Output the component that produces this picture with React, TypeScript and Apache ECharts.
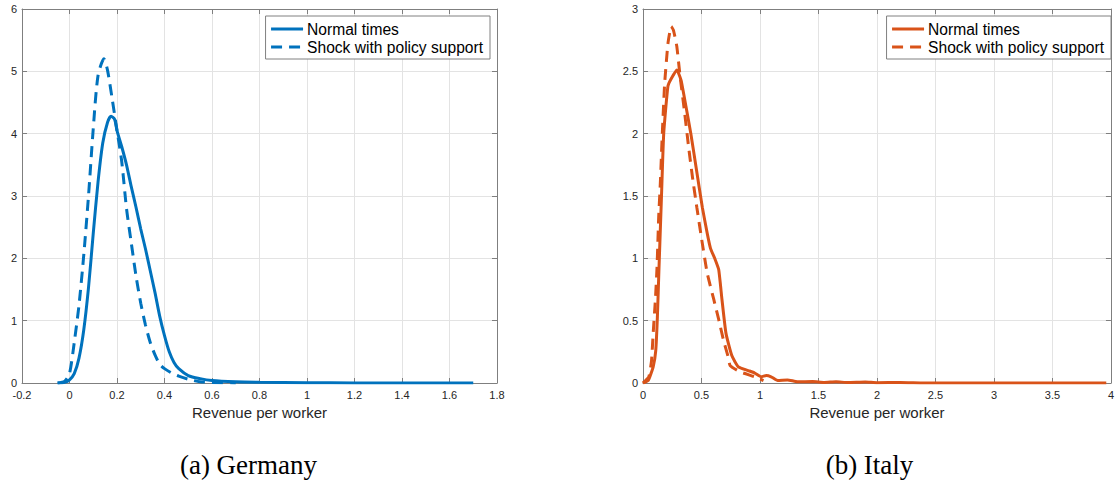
import React, { useEffect, useRef } from "react";
import * as echarts from "echarts";

const SERIES_NAMES = ["Normal times", "Shock with policy support"];
const X_AXIS_TITLE = "Revenue per worker";
const CAPTIONS = ["(a) Germany", "(b) Italy"];

// Germany
const DE_NORMAL_X = [-0.05, -0.02, 0, 0.02, 0.04, 0.06, 0.08, 0.1, 0.12, 0.14, 0.16, 0.175, 0.19, 0.2, 0.22, 0.24, 0.26, 0.28, 0.3, 0.32, 0.34, 0.36, 0.38, 0.4, 0.42, 0.44, 0.46, 0.5, 0.55, 0.6, 0.7, 0.8, 1.0, 1.2, 1.4, 1.7];
const DE_NORMAL_Y = [0, 0.01, 0.05, 0.15, 0.4, 0.85, 1.53, 2.4, 3.22, 3.85, 4.18, 4.28, 4.23, 4.05, 3.79, 3.5, 3.15, 2.82, 2.47, 2.15, 1.8, 1.45, 1.07, 0.76, 0.5, 0.33, 0.23, 0.12, 0.07, 0.04, 0.02, 0.012, 0.005, 0.002, 0.001, 0];
const DE_SHOCK_X = [-0.05, -0.02, 0, 0.02, 0.04, 0.06, 0.08, 0.1, 0.12, 0.145, 0.16, 0.18, 0.2, 0.22, 0.24, 0.26, 0.28, 0.3, 0.32, 0.34, 0.36, 0.38, 0.4, 0.43, 0.46, 0.5, 0.55, 0.6, 0.7];
const DE_SHOCK_Y = [0, 0.03, 0.15, 0.65, 1.25, 2.05, 3.0, 4.08, 4.93, 5.2, 5.02, 4.55, 4.05, 3.55, 2.8, 2.25, 1.72, 1.28, 0.93, 0.65, 0.45, 0.3, 0.23, 0.16, 0.11, 0.06, 0.02, 0.01, 0];

// Italy
const IT_NORMAL_X = [0, 0.045, 0.087, 0.109, 0.123, 0.137, 0.157, 0.177, 0.213, 0.241, 0.289, 0.325, 0.367, 0.409, 0.457, 0.507, 0.549, 0.577, 0.613, 0.647, 0.675, 0.709, 0.759, 0.815, 0.899, 0.955, 1.011, 1.053, 1.095, 1.151, 1.235, 1.32, 1.45, 1.55, 1.65, 1.75, 1.9, 2.0, 2.2, 2.4, 3.0, 3.5, 3.96];
const IT_NORMAL_Y = [0, 0.02, 0.13, 0.26, 0.53, 0.93, 1.47, 2.0, 2.38, 2.44, 2.51, 2.43, 2.22, 2.0, 1.71, 1.41, 1.2, 1.08, 1.0, 0.91, 0.67, 0.4, 0.22, 0.13, 0.1, 0.08, 0.05, 0.06, 0.05, 0.02, 0.025, 0.01, 0.012, 0.005, 0.01, 0.004, 0.008, 0.003, 0.005, 0.001, 0, 0, 0];
const IT_SHOCK_X = [0, 0.05, 0.073, 0.087, 0.106, 0.12, 0.134, 0.148, 0.165, 0.185, 0.213, 0.241, 0.26, 0.289, 0.317, 0.353, 0.389, 0.423, 0.46, 0.502, 0.549, 0.605, 0.647, 0.689, 0.725, 0.745, 0.829, 0.955, 1.03];
const IT_SHOCK_Y = [0, 0.05, 0.18, 0.4, 0.67, 0.93, 1.33, 1.6, 2.0, 2.4, 2.72, 2.86, 2.83, 2.7, 2.46, 2.19, 1.9, 1.65, 1.41, 1.15, 0.88, 0.67, 0.51, 0.34, 0.22, 0.14, 0.09, 0.05, 0.02];

// Axis ranges / ticks
const DE_X = { min: -0.2, max: 1.8, interval: 0.2 };
const DE_Y = { min: 0, max: 6, interval: 1 };
const IT_X = { min: 0, max: 4, interval: 0.5 };
const IT_Y = { min: 0, max: 3, interval: 0.5 };

const BLUE = "#0072BD";
const ORANGE = "#D95319";
const AXIS_COLOR = "#7f7f7f";
const LABEL_COLOR = "#262626";
const GRID_COLOR = "#e3e3e3";
const SANS = "Liberation Sans";

const zip = (xs: number[], ys: number[]) => xs.map((x, i) => [x, ys[i]]);

export default function App() {
  const ref = useRef<HTMLDivElement>(null);

  useEffect(() => {
    const chart = echarts.init(ref.current!, null, { renderer: "svg" });

    const grids = [
      { left: 22, top: 9, width: 475, height: 374 },
      { left: 643, top: 9, width: 475, height: 374 },
    ];

    const mainX = (r: any, gi: number) => ({
      type: "value",
      gridIndex: gi,
      position: "bottom",
      ...r,
      name: X_AXIS_TITLE,
      nameLocation: "middle",
      nameGap: 20,
      nameTextStyle: { fontFamily: SANS, fontSize: 15, color: LABEL_COLOR },
      axisLine: { show: true, onZero: false, lineStyle: { color: AXIS_COLOR, width: 1 } },
      axisTick: { show: true, inside: true, length: 5, lineStyle: { color: AXIS_COLOR } },
      axisLabel: { fontFamily: SANS, fontSize: 11, color: LABEL_COLOR, margin: 6, alignMaxLabel: "center", alignMinLabel: "center", hideOverlap: false },
      splitLine: { show: true, lineStyle: { color: GRID_COLOR, width: 1 } },
    });
    const topX = (r: any, gi: number) => ({
      type: "value",
      gridIndex: gi,
      position: "top",
      ...r,
      axisLine: { show: true, onZero: false, lineStyle: { color: AXIS_COLOR, width: 1 } },
      axisTick: { show: true, inside: true, length: 5, lineStyle: { color: AXIS_COLOR } },
      axisLabel: { show: false },
      splitLine: { show: false },
    });
    const mainY = (r: any, gi: number) => ({
      type: "value",
      gridIndex: gi,
      position: "left",
      ...r,
      axisLine: { show: true, onZero: false, lineStyle: { color: AXIS_COLOR, width: 1 } },
      axisTick: { show: true, inside: true, length: 5, lineStyle: { color: AXIS_COLOR } },
      axisLabel: { fontFamily: SANS, fontSize: 11, color: LABEL_COLOR, margin: 5 },
      splitLine: { show: true, lineStyle: { color: GRID_COLOR, width: 1 } },
    });
    const rightY = (r: any, gi: number) => ({
      type: "value",
      gridIndex: gi,
      position: "right",
      ...r,
      axisLine: { show: true, onZero: false, lineStyle: { color: AXIS_COLOR, width: 1 } },
      axisTick: { show: true, inside: true, length: 5, lineStyle: { color: AXIS_COLOR } },
      axisLabel: { show: false },
      splitLine: { show: false },
    });

    const suffix = [" ", "  "];
    const legendFor = (gi: number, pos: any) => ({
      ...pos,
      top: 16,
      orient: "vertical",
      data: SERIES_NAMES.map((n) => n + suffix[gi]),
      formatter: (n: string) => n.trim(),
      itemWidth: 32,
      itemHeight: 18,
      itemGap: 0,
      padding: [4, 7, 3, 4],
      borderColor: "#808080",
      borderWidth: 1,
      borderRadius: 0,
      backgroundColor: "#ffffff",
      selectedMode: false,
      itemStyle: { opacity: 0 },
      lineStyle: { width: 3 },
      textStyle: { fontFamily: SANS, fontSize: 15.6, color: "#000", lineHeight: 18, padding: [0, 0, 0, -1] },
    });

    const line = (name: string, data: number[][], color: string, dashed: boolean, gi: number, smooth: number | boolean) => ({
      type: "line",
      name,
      xAxisIndex: gi,
      yAxisIndex: gi,
      data,
      symbol: "none",
      smooth,
      color,
      lineStyle: { color, width: 3, type: dashed ? [11, 7] : "solid" },
      emphasis: { disabled: true },
    });

    const option: any = {
      animation: false,
      backgroundColor: "#ffffff",
      grid: grids,
      xAxis: [mainX(DE_X, 0), mainX(IT_X, 1), topX(DE_X, 0), topX(IT_X, 1)],
      yAxis: [mainY(DE_Y, 0), mainY(IT_Y, 1), rightY(DE_Y, 0), rightY(IT_Y, 1)],
      legend: [legendFor(0, { right: 627 }), legendFor(1, { right: 6 })],
      series: [
        line(SERIES_NAMES[0] + suffix[0], zip(DE_NORMAL_X, DE_NORMAL_Y), BLUE, false, 0, 0.25),
        line(SERIES_NAMES[1] + suffix[0], zip(DE_SHOCK_X, DE_SHOCK_Y), BLUE, true, 0, 0.25),
        line(SERIES_NAMES[0] + suffix[1], zip(IT_NORMAL_X, IT_NORMAL_Y), ORANGE, false, 1, 0.15),
        line(SERIES_NAMES[1] + suffix[1], zip(IT_SHOCK_X, IT_SHOCK_Y), ORANGE, true, 1, 0.15),
      ],
      graphic: [
        {
          type: "text",
          x: 248.5,
          y: 465,
          style: { text: CAPTIONS[0], fontFamily: "Liberation Serif", fontSize: 27, fill: "#000", align: "center", verticalAlign: "middle" },
        },
        {
          type: "text",
          x: 869.5,
          y: 465,
          style: { text: CAPTIONS[1], fontFamily: "Liberation Serif", fontSize: 27, fill: "#000", align: "center", verticalAlign: "middle" },
        },
      ],
    };

    chart.setOption(option);
    return () => chart.dispose();
  }, []);

  return <div ref={ref} style={{ position: "absolute", left: 0, top: 0, width: 1117, height: 481 }} />;
}
